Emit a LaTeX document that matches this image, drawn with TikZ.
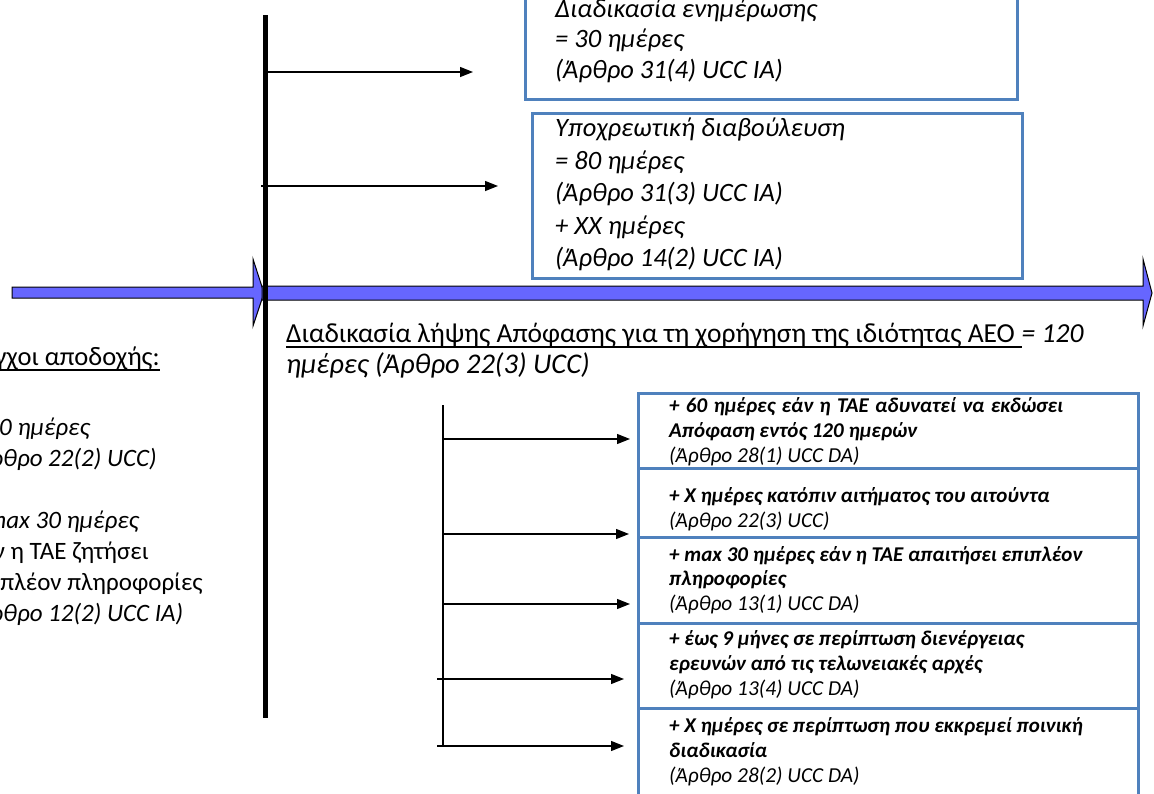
\documentclass[tikz,border=0pt]{standalone}
\usepackage{fontspec}
\setmainfont{Carlito}
\usetikzlibrary{arrows.meta,calc}
\definecolor{boxblue}{RGB}{79,129,189}
\definecolor{arrowfill}{RGB}{102,102,255}
\newcommand\fontUp{\fontsize{26.5}{30.5}\selectfont}
\newcommand\fontLeft{\fontsize{25}{30.5}\selectfont}
\newcommand\fontHead{\fontsize{26.5}{30.5}\selectfont}
\newcommand\fontLab{\fontsize{27.5}{30.5}\selectfont}
\newcommand\fontLabB{\fontsize{28.5}{30.5}\selectfont}
\newcommand\fontLowB{\fontsize{21}{25}\selectfont\bfseries\itshape}
\newcommand\fontLowA{\fontsize{21.3}{25}\selectfont\itshape}
\tikzset{
  bluebox/.style={draw=boxblue,line width=3pt},
  bigarrow/.style={fill=arrowfill,draw=black,line width=1pt,line join=miter},
  conn/.style={-{Triangle[length=13pt,width=10pt]},line width=1.4pt},
  lowconn/.style={-{Triangle[length=13pt,width=10pt]},line width=1.3pt},
  txt/.style={inner sep=0pt,anchor=base west},
  up/.style={txt,font=\fontUp\itshape},
  left/.style={txt,font=\fontLeft\itshape},
  leftrm/.style={txt,font=\fontLeft},
  lab/.style={txt,font=\fontLab\itshape},
  labrm/.style={txt,font=\fontLab},
  lowb/.style={txt,font=\fontLowB},
  lowa/.style={txt,font=\fontLowA},
  uline/.style={line width=1.3pt}
}
\begin{document}
\begin{tikzpicture}[x=1pt,y=-1pt]
\useasboundingbox (0,0) rectangle (1154,793);
\begin{scope}
\clip (0,0) rectangle (1154,793);
% big blue timeline arrows
\filldraw[bigarrow] (12,287) -- (253,287) -- (253,259) -- (264,293) -- (253,326) -- (253,298) -- (12,298) -- cycle;
\filldraw[bigarrow] (262,286) -- (1143,286) -- (1143,259) -- (1152,293) -- (1143,326) -- (1143,300) -- (262,300) -- cycle;
% thick vertical line
\coordinate (vtop) at (265,15);
\coordinate (vbot) at (265,718);
\draw[line width=5pt] (vtop) -- (vbot);
% upper boxes
\draw[bluebox] (525,-20) rectangle (1017,99);
\draw[bluebox] (532,113) rectangle (1022,278);
% upper arrows
\coordinate (u1s) at (265,72);
\coordinate (u1e) at (473,72);
\coordinate (u2s) at (261,186);
\coordinate (u2e) at (498,186);
\draw[conn] (u1s) -- (u1e);
\draw[conn] (u2s) -- (u2e);
% upper box texts
\node[up] (t1a) at (555,17) {Διαδικασία ενημέρωσης};
\node[up] (t1b) at (555,47.5) {= 30 ημέρες};
\node[up] (t1c) at (555,78) {(Άρθρο 31(4) UCC IA)};
\node[up] (t2a) at (555,136.5) {Υποχρεωτική διαβούλευση};
\node[up] (t2b) at (555,169) {= 80 ημέρες};
\node[up] (t2c) at (555,201.5) {(Άρθρο 31(3) UCC IA)};
\node[up] (t2d) at (555,234) {+ XX ημέρες};
\node[up] (t2e) at (555,266.5) {(Άρθρο 14(2) UCC IA)};
% label under timeline
\node[labrm] (lab1) at (286,342) {Διαδικασία λήψης Απόφασης για τη χορήγηση της ιδιότητας AEO\ \null};
\node[lab] (lab1b) at (lab1.base east) {= 120};
\node[txt,font=\fontLabB\itshape] (lab2) at (286,373) {ημέρες (Άρθρο 22(3) UCC)};
\draw[uline] ($(lab1.base west)+(0,5)$) -- ($(lab1.base east)+(0,5)$);
% left text (partly cut by the left edge)
\node[left,anchor=base east] (e2) at (157,466) {(Άρθρο 22(2) UCC)};
\node[txt,font=\fontHead,anchor=base east] (e0) at (160,365) {Έλεγχοι αποδοχής:};
\draw[uline] ($(e0.base west)+(0,5)$) -- ($(e0.base east)+(0,5)$);
\node[left] (e1) at (e2.base west |- 0,435) {= 30 ημέρες};
\node[left] (e3) at (e2.base west |- 0,528) {+ max 30 ημέρες};
\node[leftrm] (e4) at (e2.base west |- 0,559) {εάν η ΤΑΕ ζητήσει};
\node[leftrm] (e5) at (e2.base west |- 0,590) {επιπλέον πληροφορίες};
\node[left] (e6) at (e2.base west |- 0,621) {(Άρθρο 12(2) UCC IA)};
% lower boxes
\draw[bluebox] (638,393) rectangle (1138,468);
\draw[bluebox] (638,468) rectangle (1138,537);
\draw[bluebox] (638,537) rectangle (1138,623);
\draw[bluebox] (638,623) rectangle (1138,708);
\draw[bluebox] (638,708) rectangle (1138,810);
% lower bracket and arrows
\coordinate (ltop) at (443,405);
\coordinate (lbot) at (443,746);
\draw[line width=1.5pt] (ltop) -- (lbot);
\coordinate (a1s) at (443,439); \coordinate (a1e) at (630,439);
\coordinate (a2s) at (443,534); \coordinate (a2e) at (629,534);
\coordinate (a3s) at (443,604); \coordinate (a3e) at (630,604);
\coordinate (a4s) at (437,679); \coordinate (a4e) at (624,679);
\coordinate (a5s) at (437,746); \coordinate (a5e) at (624,746);
\draw[lowconn] (a1s) -- (a1e);
\draw[lowconn] (a2s) -- (a2e);
\draw[lowconn] (a3s) -- (a3e);
\draw[lowconn] (a4s) -- (a4e);
\draw[lowconn] (a5s) -- (a5e);
% lower box texts
\node[lowb] (la1) at (669,412) {\spaceskip=6.3pt\relax + 60 ημέρες εάν η ΤΑΕ αδυνατεί να εκδώσει};
\node[lowb] (la2) at (669,437) {Απόφαση εντός 120 ημερών};
\node[lowa] (la3) at (669,462) {(Άρθρο 28(1) UCC DA)};
\node[lowb] (lb1) at (669,502) {+ X ημέρες κατόπιν αιτήματος του αιτούντα};
\node[lowa] (lb2) at (669,527) {(Άρθρο 22(3) UCC)};
\node[lowb] (lc1) at (669,561) {+ max 30 ημέρες εάν η ΤΑΕ απαιτήσει επιπλέον};
\node[lowb] (lc2) at (669,585) {πληροφορίες};
\node[lowa] (lc3) at (669,610) {(Άρθρο 13(1) UCC DA)};
\node[lowb] (ld1) at (669,645) {+ έως 9 μήνες σε περίπτωση διενέργειας};
\node[lowb] (ld2) at (669,670) {ερευνών από τις τελωνειακές αρχές};
\node[lowa] (ld3) at (669,695) {(Άρθρο 13(4) UCC DA)};
\node[lowb] (le1) at (669,732) {+ X ημέρες σε περίπτωση που εκκρεμεί ποινική};
\node[lowb] (le2) at (669,757) {διαδικασία};
\node[lowa] (le3) at (669,782) {(Άρθρο 28(2) UCC DA)};
\end{scope}
\end{tikzpicture}
\end{document}
